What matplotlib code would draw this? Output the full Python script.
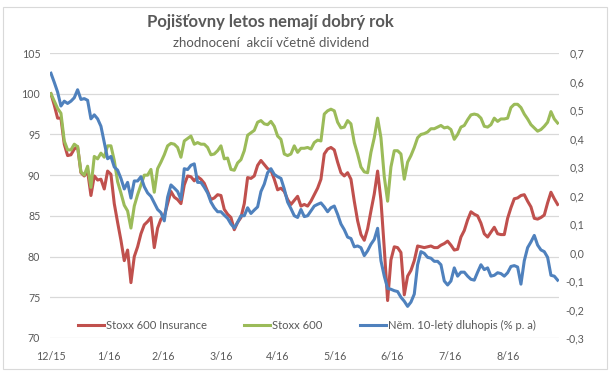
import numpy as np
import pandas as pd
import matplotlib
matplotlib.use("Agg")
import matplotlib.pyplot as plt
from matplotlib.patches import Rectangle
from matplotlib.lines import Line2D

plt.rcParams["font.family"] = ["Lato", "DejaVu Sans"]

TITLE = "Pojišťovny letos nemají dobrý rok"
SUBTITLE = "zhodnocení  akcií včetně dividend"

START = pd.Timestamp("2015-12-31")
STEP_DAYS = 1.78  # one reading roughly every 1.78 calendar days

LABELS = ["Stoxx 600 Insurance", "Stoxx 600", "Něm. 10-letý dluhopis (% p. a)"]
COLORS = ["#C0504D", "#9BBB59", "#4F81BD"]

# index, 31.12.2015 = 100
insurance = [
    100, 98.6, 97.0, 97.0, 93.8, 92.4, 92.5, 93.2, 93.5, 90.3,
    89.9, 90.5, 87.5, 89.9, 89.4, 89.5, 88.3, 90.5, 90.1, 86.5,
    84.2, 82.0, 79.5, 80.8, 76.8, 80.0, 81.2, 82.8, 83.9, 84.3,
    84.8, 81.1, 83.5, 84.6, 85.0, 86.5,
    88.0, 87.3, 87.0, 86.5, 88.8, 89.9, 89.8, 89.3, 89.8, 89.5,
    89.0, 88.0, 87.0, 87.2, 87.6, 87.5, 85.8, 85.2, 84.8, 83.3,
    84.2, 84.8, 86.5, 89.7, 89.6, 89.9, 91.2, 91.8, 91.3, 90.8,
    90.6, 89.5, 88.2, 88.4, 88.0, 87.0, 86.4,
    86.9, 87.4, 86.2, 86.4, 86.2, 86.8, 87.6, 88.4, 89.5, 92.6,
    93.2, 93.4, 93.1, 91.6, 90.3, 89.9, 90.3, 89.5, 86.8, 84.4,
    82.7, 82.0, 83.4, 85.6, 87.7, 90.5, 86.9, 81.0, 74.6, 79.6,
    81.2, 81.1, 80.5, 75.3, 77.6, 78.3, 79.5, 81.3,
    81.2, 81.1, 81.2, 81.3, 81.1, 81.1, 81.4, 81.6, 81.9, 81.4,
    80.8, 80.9, 82.4, 83.2, 84.5, 85.5, 85.2, 85.0, 84.1, 82.8,
    82.4, 83.0, 83.6, 82.8, 82.7, 82.7, 84.7, 86.0, 87.1, 87.2,
    87.5, 87.6, 86.8, 86.1, 84.7, 84.6, 84.8, 85.1, 86.6, 87.9,
    87.1, 86.4,
]

stoxx600 = [
    100, 99.1, 98.2, 97.6, 94.2, 93.1, 93.1, 93.8, 93.5, 90.4,
    90.0, 91.1, 88.5, 92.3, 92.0, 92.7, 92.2, 93.6, 93.6, 91.8,
    89.2, 87.8, 86.3, 85.6, 83.5, 86.2, 87.6, 88.8, 90.0, 90.0,
    90.7, 87.9, 90.8, 91.6, 92.5, 93.6,
    93.9, 93.8, 93.4, 92.2, 94.2, 94.5, 94.8, 93.8, 94.0, 93.8,
    93.8, 93.4, 92.5, 92.6, 93.0, 93.6, 92.0, 92.1, 90.7, 90.6,
    91.5, 91.9, 93.0, 94.9, 95.2, 95.5, 96.5, 96.7, 96.3, 96.2,
    96.6, 96.0, 94.8, 94.4, 92.6, 92.4, 92.6,
    93.6, 92.8, 93.3, 93.3, 93.4, 93.2, 94.0, 94.3, 94.2, 97.5,
    97.9, 98.1, 97.9, 96.5, 95.8, 95.9, 96.7, 96.3, 94.0, 92.6,
    91.0, 90.4, 90.3, 92.8, 94.6, 97.0, 94.6, 89.8, 86.8, 91.0,
    93.0, 93.0, 92.6, 89.5, 91.6, 92.4, 93.4, 94.6,
    95.0, 95.1, 95.3, 95.7, 95.7, 95.9, 96.1, 95.8, 95.9, 95.6,
    94.4, 95.0, 95.9, 96.1, 96.8, 97.4, 97.5, 97.4, 97.0, 96.0,
    95.9, 96.2, 97.0, 96.6, 96.9, 96.9, 97.0, 98.3, 98.7, 98.7,
    98.3, 97.5, 96.9, 96.2, 95.8, 95.4, 95.6, 96.0, 96.5, 97.8,
    96.9, 96.4,
]

# yield in % p. a. (right axis)
bund10y = [
    0.629, 0.597, 0.563, 0.514, 0.531, 0.523, 0.531, 0.543, 0.571, 0.537,
    0.540, 0.534, 0.469, 0.483, 0.469, 0.443, 0.386, 0.329, 0.337, 0.300,
    0.289, 0.260, 0.223, 0.246, 0.191, 0.251, 0.251, 0.266, 0.231, 0.209,
    0.197, 0.174, 0.151, 0.140, 0.111, 0.194,
    0.237, 0.226, 0.214, 0.186, 0.294, 0.291, 0.306, 0.311, 0.246, 0.246,
    0.229, 0.209, 0.177, 0.157, 0.143, 0.143, 0.131, 0.120, 0.100, 0.086,
    0.106, 0.129, 0.129, 0.157, 0.137, 0.149, 0.160, 0.214, 0.240, 0.280,
    0.294, 0.274, 0.266, 0.260, 0.223, 0.177, 0.154,
    0.129, 0.123, 0.151, 0.126, 0.129, 0.146, 0.163, 0.169, 0.174, 0.160,
    0.143, 0.157, 0.163, 0.134, 0.100, 0.080, 0.054, 0.049, 0.020, 0.023,
    0.017, -0.011, 0.006, 0.029, 0.046, 0.085, -0.029, -0.083, -0.126, -0.129,
    -0.134, -0.137, -0.157, -0.171, -0.189, -0.174, -0.146, -0.043,
    0.003, -0.003, -0.017, -0.020, -0.031, -0.031, -0.043, -0.100, -0.114, -0.100,
    -0.054, -0.083, -0.069, -0.069, -0.083, -0.094, -0.097, -0.069, -0.043, -0.060,
    -0.054, -0.083, -0.080, -0.071, -0.074, -0.083, -0.071, -0.049, -0.046, -0.051,
    -0.111, -0.029, 0.017, 0.037, 0.060, 0.026, 0.009, 0.003, -0.017, -0.080,
    -0.083, -0.097,
]

GRAY = "#595959"
GRID = "#D9D9D9"

W, H = 616, 373
fig = plt.figure(figsize=(W / 100, H / 100), dpi=100)
fig.patches.append(Rectangle((3 / W, 1 - 369 / H), 604 / W, 362 / H,
                             transform=fig.transFigure, fill=False,
                             edgecolor=GRID, lw=0.8))

ax = fig.add_axes([50 / W, 1 - 338 / H, 509 / W, 285 / H])
ax2 = ax.twinx()

days = np.arange(len(insurance)) * STEP_DAYS
ax.plot(days, insurance, color=COLORS[0], lw=2.2, solid_joinstyle="round")
ax.plot(days, stoxx600, color=COLORS[1], lw=2.2, solid_joinstyle="round")
ax2.plot(days, bund10y, color=COLORS[2], lw=2.2, solid_joinstyle="round")

month_ends = pd.date_range(START, periods=9, freq="ME")
ticks = [(d - START).days for d in month_ends]
ax.set_xticks(ticks)
ax.set_xticklabels([f"{d.month}/{d:%y}" for d in month_ends])
ax.set_xlim(-0.5, 271.3)

ax.set_ylim(70, 105)
ax.set_yticks(range(70, 106, 5))
ax2.set_ylim(-0.3, 0.7)
r_ticks = np.round(np.arange(-0.3, 0.71, 0.1), 1)
ax2.set_yticks(r_ticks)
ax2.set_yticklabels([f"{v:.1f}".replace(".", ",").replace("-0,0", "0,0") for v in r_ticks])

ax.grid(axis="y", color=GRID, lw=0.9)
ax.set_axisbelow(True)
for a in (ax, ax2):
    for s in a.spines.values():
        s.set_visible(False)
ax.tick_params(axis="y", length=0, pad=7, labelsize=7.7, labelcolor=GRAY)
ax.tick_params(axis="x", length=0, pad=9, labelsize=7.7, labelcolor=GRAY)
ax2.tick_params(axis="y", length=0, pad=18, labelsize=7.7, labelcolor=GRAY)
for t in ax2.get_yticklabels():
    t.set_horizontalalignment("right")

fig.text(270 / W, 1 - 22 / H, TITLE, ha="center", va="center",
         fontsize=12, fontweight="bold", color=GRAY)
fig.text(271 / W, 1 - 43 / H, SUBTITLE, ha="center", va="center",
         fontsize=9.5, color=GRAY)

handles = [Line2D([], [], color=c, lw=2.2) for c in COLORS]
fig.legend(handles, LABELS, loc="center", bbox_to_anchor=(307 / W, 1 - 325 / H),
           ncol=3, frameon=False, fontsize=8.1, handlelength=2.3,
           handletextpad=0.2, columnspacing=3.3, labelcolor=GRAY)

fig.savefig("out.png", dpi=100)
